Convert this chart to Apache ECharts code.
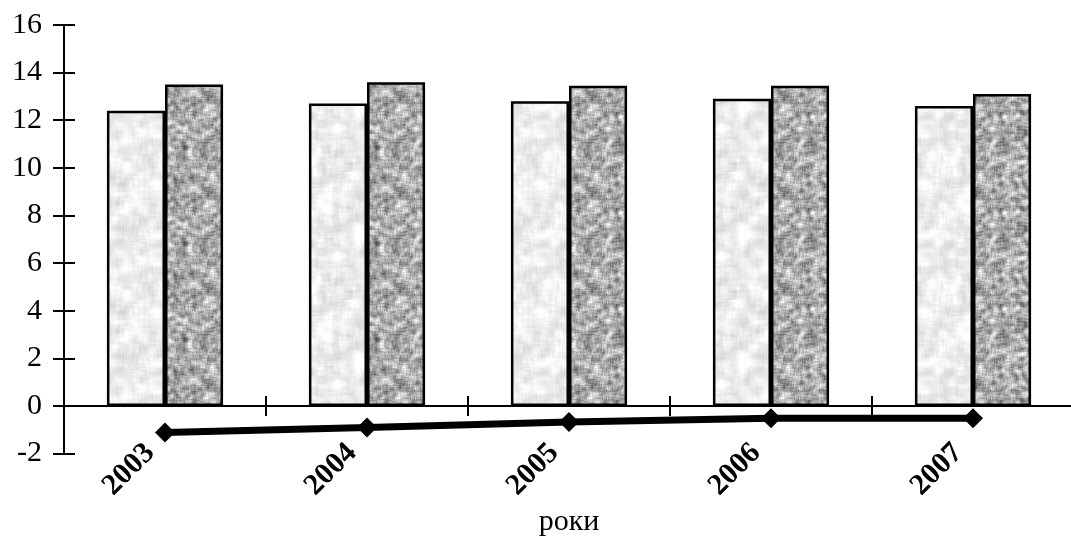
<!DOCTYPE html>
<html><head><meta charset="utf-8">
<script src="https://cdn.jsdelivr.net/npm/echarts@6/dist/echarts.min.js"></script>
<style>html,body{margin:0;padding:0;background:#fff}#c{width:1071px;height:541px}</style>
</head><body><div id="c"></div>
<script>
// ---- data ----
const categories = ['2003', '2004', '2005', '2006', '2007'];
const seriesLight = [12.4, 12.7, 12.8, 12.9, 12.6];
const seriesDark = [13.5, 13.6, 13.45, 13.45, 13.1];
const seriesLine = [-1.12, -0.91, -0.68, -0.52, -0.52];
const yMin = -2, yMax = 16, yStep = 2;
const xAxisName = 'роки';

// ---- textures (style only) ----
function texture(size, seed, radius, base, amp, streak) {
  let s = seed >>> 0;
  const rnd = () => { s = (Math.imul(s, 1664525) + 1013904223) >>> 0; return s / 4294967296; };
  const raw = new Float32Array(size * size);
  for (let i = 0; i < raw.length; i++) raw[i] = rnd();
  const out = new Float32Array(size * size);
  let mean = 0;
  for (let y = 0; y < size; y++) for (let x = 0; x < size; x++) {
    let sum = 0, n = 0;
    for (let dy = -radius; dy <= radius; dy++) for (let dx = -radius; dx <= radius; dx++) {
      sum += raw[((y + dy + size) % size) * size + ((x + dx + size) % size)]; n++;
    }
    out[y * size + x] = sum / n; mean += sum / n;
  }
  mean /= out.length;
  let v2 = 0; for (let i = 0; i < out.length; i++) v2 += (out[i] - mean) * (out[i] - mean);
  const sd = Math.sqrt(v2 / out.length) || 1;
  const c = document.createElement('canvas'); c.width = size; c.height = size;
  const ctx = c.getContext('2d'); const img = ctx.createImageData(size, size);
  for (let y = 0; y < size; y++) for (let x = 0; x < size; x++) {
    let z = (out[y * size + x] - mean) / sd;
    if (streak) z += streak * Math.sin((x + y) * 2 * Math.PI / size * 2);
    const g = Math.max(0, Math.min(255, base + z * amp));
    const k = (y * size + x) * 4;
    img.data[k] = g; img.data[k + 1] = g; img.data[k + 2] = Math.min(255, g + 3); img.data[k + 3] = 255;
  }
  ctx.putImageData(img, 0, 0);
  return c;
}
const lightTex = texture(128, 12345, 4, 237, 8, 0.6);
const darkTex = texture(96, 987, 2, 172, 27, 0);

const font = "'Liberation Serif', 'Times New Roman', serif";
const chart = echarts.init(document.getElementById('c'), null, { renderer: 'canvas' });
const gridBox = { left: 64, top: 25, width: 1010, height: 428.5, containLabel: false, outerBoundsMode: 'none' };
chart.setOption({
  animation: false,
  backgroundColor: '#fff',
  grid: [Object.assign({}, gridBox), Object.assign({}, gridBox)],
  xAxis: [{
    type: 'category', data: categories, gridIndex: 0, boundaryGap: true,
    axisLine: { onZero: true, lineStyle: { color: '#000', width: 2 } },
    axisTick: { show: true, inside: false, length: 10, lineStyle: { color: '#000', width: 2 } },
    axisLabel: { rotate: 45, margin: -20, padding: [0, 21, 0, 0], color: '#000', fontFamily: font, fontWeight: 'bold', fontSize: 30 },
    name: xAxisName, nameLocation: 'middle', nameGap: 54, nameMoveOverlap: false,
    nameTextStyle: { color: '#000', fontFamily: font, fontSize: 30 },
    splitLine: { show: false }
  }, {
    type: 'category', data: categories, gridIndex: 1, boundaryGap: true,
    axisLine: { onZero: true, lineStyle: { color: '#000', width: 2 } },
    axisTick: { show: true, inside: true, length: 10, lineStyle: { color: '#000', width: 2 } },
    axisLabel: { show: false }, splitLine: { show: false }
  }],
  yAxis: [{
    type: 'value', gridIndex: 0, min: yMin, max: yMax, interval: yStep,
    axisLine: { show: true, lineStyle: { color: '#000', width: 2 } },
    axisTick: { show: true, inside: false, length: 11, lineStyle: { color: '#000', width: 2 } },
    axisLabel: { margin: 22, color: '#000', fontFamily: font, fontSize: 30 },
    splitLine: { show: false }
  }, {
    type: 'value', gridIndex: 1, min: yMin, max: yMax, interval: yStep,
    axisLine: { show: true, lineStyle: { color: '#000', width: 2 } },
    axisTick: { show: true, inside: true, length: 11, lineStyle: { color: '#000', width: 2 } },
    axisLabel: { show: false }, splitLine: { show: false }
  }],
  series: [{
    type: 'bar', data: seriesLight, xAxisIndex: 0, yAxisIndex: 0,
    barGap: '0%', barCategoryGap: '42.5%',
    itemStyle: { color: { image: lightTex, repeat: 'repeat' }, borderColor: '#000', borderWidth: 2.5 }
  }, {
    type: 'bar', data: seriesDark, xAxisIndex: 0, yAxisIndex: 0,
    barGap: '0%', barCategoryGap: '42.5%',
    itemStyle: { color: { image: darkTex, repeat: 'repeat' }, borderColor: '#000', borderWidth: 2.5 }
  }, {
    type: 'line', data: seriesLine, xAxisIndex: 0, yAxisIndex: 0, z: 5,
    symbol: 'diamond', symbolSize: 20, showAllSymbol: true,
    lineStyle: { color: '#000', width: 7 }, itemStyle: { color: '#000' }
  }]
});
</script></body></html>
